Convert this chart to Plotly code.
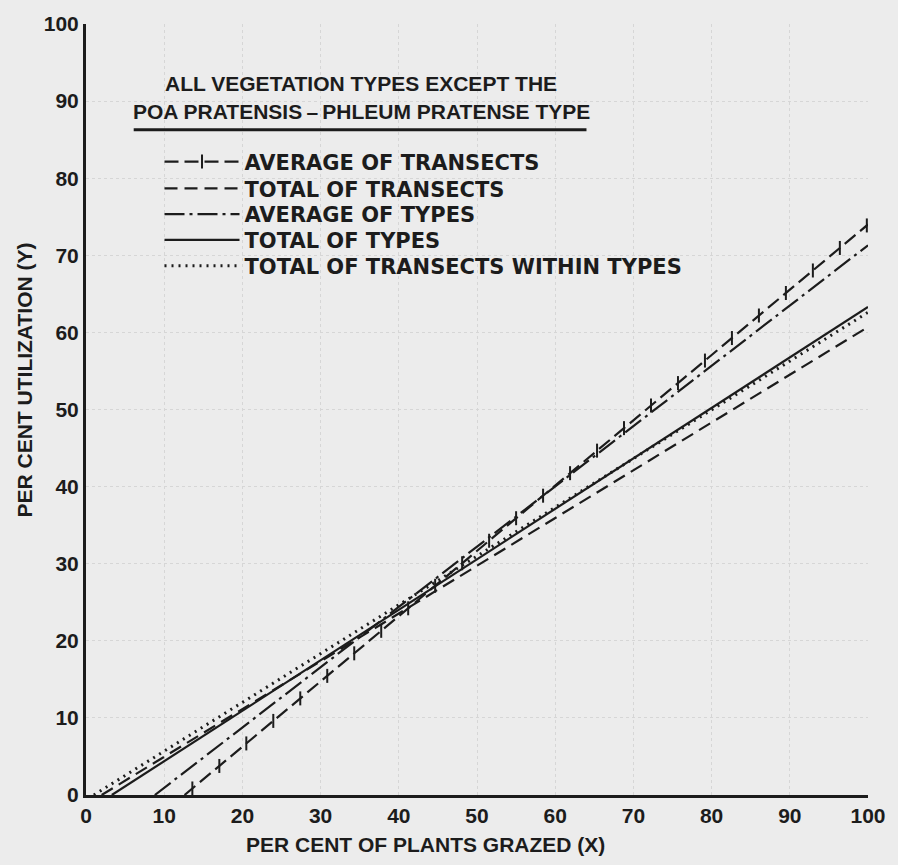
import numpy as np
import plotly.graph_objects as go

# ---- data ----
series_names = [
    "AVERAGE OF TRANSECTS",
    "TOTAL OF TRANSECTS",
    "AVERAGE OF TYPES",
    "TOTAL OF TYPES",
    "TOTAL OF TRANSECTS WITHIN TYPES",
]
# x where each fitted line meets Y = 0, and the Y value reached at X = 100
x_start = [12.6, 2.0, 8.8, 3.3, 1.0]
y_start = [0, 0, 0, 0, 0]
x_end = [100, 100, 100, 100, 100]
y_end = [74.0, 60.7, 71.3, 63.3, 62.6]

x_ticks = [0, 10, 20, 30, 40, 50, 60, 70, 80, 90, 100]
y_ticks = [0, 10, 20, 30, 40, 50, 60, 70, 80, 90, 100]

title_line1 = "ALL VEGETATION TYPES EXCEPT THE"
title_line2 = "POA PRATENSIS\u2009\u2013\u2009PHLEUM PRATENSE TYPE"
x_title = "PER CENT OF PLANTS GRAZED (X)"
y_title = "PER CENT UTILIZATION (Y)"

# ---- styling ----
INK = "#1c1c1c"
BG = "#ececec"
FONT = "Liberation Sans, Arial, sans-serif"
LFONT = "DejaVu Sans, sans-serif"
dashes = ["14px,6px", "13px,7px", "20px,5px,3px,5px", "solid", "2px,5px"]
widths = [2.2, 2.2, 2.2, 2.2, 3]
legend_ids = ["legend", "legend2", "legend3", "legend4", "legend5"]
# legend row centres in pixels from top (layout only)
legend_rows_px = [157, 184, 210, 236, 262]

PLOT_TOP, PLOT_BOTTOM = 18, 795
PLOT_H = PLOT_BOTTOM - PLOT_TOP

fig = go.Figure()
for i, name in enumerate(series_names):
    xs = [x_start[i], x_end[i]]
    ys = [y_start[i], y_end[i]]
    fig.add_trace(go.Scatter(
        x=xs, y=ys, mode="lines", name=f"<b>{name}</b>",
        line=dict(color=INK, width=widths[i], dash=dashes[i]),
        showlegend=(i != 0), legend=legend_ids[i], hoverinfo="skip",
    ))
    if i == 0:
        # cross ticks along the "+++" line (line-style decoration)
        xt = np.arange(x_start[i] + 1.0, x_end[i], 3.45)
        yt = np.interp(xt, xs, ys)
        fig.add_trace(go.Scatter(
            x=xt, y=yt, mode="markers", showlegend=False, hoverinfo="skip",
            marker=dict(symbol="line-ns", size=10, line=dict(color=INK, width=2)),
        ))
        fig.add_trace(go.Scatter(
            x=[None], y=[None], mode="lines+markers", name=f"<b>{name}</b>",
            legend=legend_ids[i],
            line=dict(color=INK, width=2.2, dash="14px,6px"),
            marker=dict(symbol="line-ns", size=10, line=dict(color=INK, width=2)),
        ))

fig.add_annotation(x=35.2, y=92.3, xref="x", yref="y", text=f"<b>{title_line1}</b>",
                   showarrow=False, xanchor="center", yanchor="middle",
                   font=dict(size=21, color=INK, family=FONT))
fig.add_annotation(x=35.2, y=88.6, xref="x", yref="y", text=f"<b>{title_line2}</b>",
                   showarrow=False, xanchor="center", yanchor="middle",
                   font=dict(size=21, color=INK, family=FONT))
fig.add_shape(type="line", xref="x", yref="y", x0=6.1, x1=64.0, y0=86.3, y1=86.3,
              line=dict(color=INK, width=3))

fig.add_annotation(xref="paper", yref="paper", x=0.434, y=-0.064, text=f"<b>{x_title}</b>",
                   showarrow=False, xanchor="center", yanchor="middle",
                   font=dict(size=21, color=INK, family=FONT))
fig.add_annotation(xref="paper", yref="paper", x=-0.079, y=0.538, text=f"<b>{y_title}</b>",
                   textangle=-90, showarrow=False, xanchor="center", yanchor="middle",
                   font=dict(size=21, color=INK, family=FONT))

axis_common = dict(
    range=[0, 100], showline=True, linecolor=INK, linewidth=3,
    showgrid=True, gridcolor="#d6d6d6", griddash="dot", gridwidth=1,
    zeroline=False, ticks="", tickfont=dict(size=21, color=INK, family=FONT),
)
fig.update_xaxes(**axis_common, tickvals=x_ticks, ticktext=[f"<b>{v}</b>" for v in x_ticks])
fig.update_yaxes(**axis_common, tickvals=y_ticks, ticktext=[f"<b>{v}</b>" for v in y_ticks])

legend_layout = {}
for lid, row in zip(legend_ids, legend_rows_px):
    legend_layout[lid] = dict(
        x=0.094, y=(PLOT_BOTTOM - row) / PLOT_H, xanchor="left", yanchor="middle",
        bgcolor="rgba(0,0,0,0)", itemwidth=75,
        font=dict(size=21, color=INK, family=LFONT),
    )

fig.update_layout(
    width=898, height=865,
    margin=dict(l=86, r=28, t=PLOT_TOP, b=865 - PLOT_BOTTOM),
    paper_bgcolor=BG, plot_bgcolor=BG,
    font=dict(family=FONT, color=INK),
    **legend_layout,
)
fig.write_html("out.html", config={"displayModeBar": False},
               post_script="document.body.style.margin='0px';")
